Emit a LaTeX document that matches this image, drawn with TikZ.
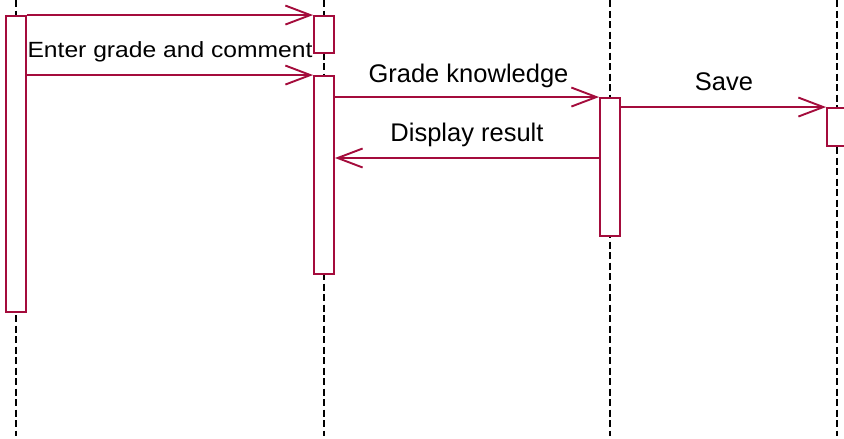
\documentclass[tikz,border=0pt]{standalone}
\usepackage{fontspec}
\setmainfont{Liberation Sans}
\usetikzlibrary{positioning, arrows.meta, calc}
\definecolor{umlred}{RGB}{164,12,60}
\tikzset{
  lifeline/.style={black, line width=1.8pt, dash pattern=on 7pt off 3.5pt},
  act/.style={draw=umlred, fill=white, line width=1.9pt, rectangle, inner sep=0pt, minimum width=20pt},
  msg/.style={umlred, line width=1.9pt, -{Straight Barb[length=25pt, width=19pt, line width=1.9pt]}},
  lbl/.style={anchor=base, inner sep=0pt, font=\fontsize{25.5}{30}\selectfont}
}

\begin{document}
\begin{tikzpicture}[x=1pt, y=-1pt]
\useasboundingbox (0, 0) rectangle (844, 439);
\foreach \lx/\ln in {16/a, 324/b, 610/c, 837/d} {
  \coordinate (top\ln) at (\lx, 0);
  \coordinate (bot\ln) at (\lx, 436);
  \draw[lifeline] (top\ln) -- (bot\ln);
}
\node[act, minimum height=296pt] (actA) at (16, 164) {};
\node[act, minimum height=37pt] (actB1) at (324, 34.5) {};
\node[act, minimum height=198pt] (actB2) at (324, 175) {};
\node[act, minimum height=138pt] (actC) at (610, 167) {};
\node[act, minimum height=38pt] (actD) at (837, 127) {};
\coordinate (ret) at (0, 158);

\draw[msg] (actA.east |- actB1.north) -- (actB1.north west);
\draw[msg] (actA.east |- actB2.north) -- (actB2.north west);
\draw[msg] (actB2.east |- actC.north) -- (actC.north west);
\draw[msg] (actC.west |- ret) -- (actB2.east |- ret);
\draw[msg] (actC.east |- actD.north) -- (actD.north west);

\node[lbl, font=\fontsize{22}{26}\selectfont, xscale=1.12, transform shape] (enter) at (170, 57) {Enter grade and comment};
\node[lbl] (grade) at (468.5, 82) {Grade knowledge};
\node[lbl] (disp) at (467, 141) {Display result};
\node[lbl] (save) at (724, 90) {Save};

\end{tikzpicture}
\end{document}
